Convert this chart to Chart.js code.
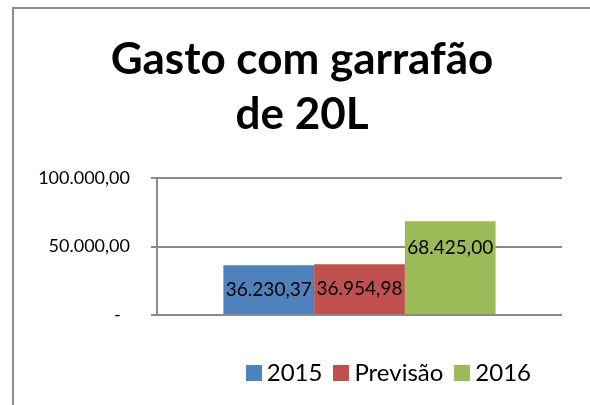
<!DOCTYPE html>
<html>
<head>
<meta charset="utf-8">
<script src="https://cdn.jsdelivr.net/npm/chart.js@4.4.1/dist/chart.umd.min.js"></script>
<style>
  html, body { margin: 0; padding: 0; background: #fff; }
  #wrap { width: 590px; height: 405px; position: relative; }
</style>
</head>
<body>
<div id="wrap"><canvas id="myChart" width="590" height="405"></canvas></div>
<script>
// data
const categories = [''];
const seriesNames = ['2015', 'Previsão', '2016'];
const seriesValues = [[36230.37], [36954.98], [68425.00]];
const seriesColors = ['#4f81bd', '#c0504d', '#9bbb59'];
const labelPlacement = ['center', 'center', 'top'];
const yTicks = [0, 50000, 100000];

const LEGEND_RIGHT = 549;
const TITLE_LEFT = 42;

function fmtBR(v) {
  const parts = v.toFixed(2).split('.');
  const intPart = parts[0].replace(/\B(?=(\d{3})+(?!\d))/g, '.');
  return intPart + ',' + parts[1];
}

// square legend swatch, drawn as an image so the text can sit close to it
function swatch(color) {
  const c = document.createElement('canvas');
  c.width = 16;
  c.height = 16;
  const g = c.getContext('2d');
  g.fillStyle = color;
  g.fillRect(0, 0, 16, 16);
  return c;
}
const swatches = seriesColors.map(swatch);

// frame round the chart, like the spreadsheet chart box
const framePlugin = {
  id: 'frame',
  beforeDraw(chart) {
    const ctx = chart.ctx;
    ctx.save();
    ctx.strokeStyle = '#8a8a8a';
    ctx.lineWidth = 2;
    ctx.beginPath();
    ctx.moveTo(13, chart.height + 2);
    ctx.lineTo(13, 8);
    ctx.lineTo(chart.width + 2, 8);
    ctx.stroke();
    ctx.restore();
  }
};

// title and legend sit right of centre in the original
const boxShift = {
  id: 'boxShift',
  afterLayout(chart) {
    if (chart.legend) chart.legend.right = LEGEND_RIGHT;
    if (chart.titleBlock) chart.titleBlock.left = TITLE_LEFT;
  }
};

// value labels inside the bars
const valueLabels = {
  id: 'valueLabels',
  afterDatasetsDraw(chart) {
    const ctx = chart.ctx;
    ctx.save();
    ctx.font = '19px Lato';
    ctx.fillStyle = '#000';
    ctx.textAlign = 'center';
    ctx.textBaseline = 'middle';
    chart.data.datasets.forEach((ds, i) => {
      const meta = chart.getDatasetMeta(i);
      meta.data.forEach((bar, j) => {
        const y = labelPlacement[i] === 'center' ? (bar.y + bar.base) / 2 : bar.y + 27;
        ctx.fillText(fmtBR(ds.data[j]), bar.x, y);
      });
    });
    ctx.restore();
  }
};

const ctx = document.getElementById('myChart').getContext('2d');
new Chart(ctx, {
  type: 'bar',
  data: {
    labels: categories,
    datasets: seriesNames.map((name, i) => ({
      label: name,
      data: seriesValues[i],
      backgroundColor: seriesColors[i],
      borderWidth: 0
    }))
  },
  options: {
    responsive: false,
    animation: false,
    events: [],
    layout: { padding: { top: 0, right: 28, bottom: 10, left: 20 } },
    datasets: { bar: { categoryPercentage: 0.672, barPercentage: 1 } },
    scales: {
      x: {
        grid: { display: false, drawTicks: false },
        border: { display: false },
        ticks: { display: false },
        title: { display: true, text: '', font: { size: 1, lineHeight: 1 }, padding: { top: 27, bottom: 0 } }
      },
      y: {
        min: 0,
        max: 100000,
        afterBuildTicks(scale) { scale.ticks = yTicks.map(v => ({ value: v })); },
        afterFit(scale) { scale.width = 137; },
        grid: { color: '#8a8a8a', lineWidth: 2, tickLength: 6, drawTicks: true },
        border: { display: true, color: '#8a8a8a', width: 2 },
        ticks: {
          color: '#000',
          font: { family: 'Lato', size: 18 },
          padding: 21,
          callback: v => (v === 0 ? '-  ' : fmtBR(v))
        }
      }
    },
    plugins: {
      title: {
        display: true,
        text: ['Gasto com garrafão', 'de 20L'],
        color: '#000',
        font: { family: 'Lato', size: 44, weight: 'bold', lineHeight: 1.25 },
        padding: { top: 32, bottom: 36 }
      },
      legend: {
        position: 'bottom',
        align: 'end',
        labels: {
          color: '#000',
          font: { family: 'Lato', size: 24 },
          usePointStyle: true,
          pointStyleWidth: 2,
          boxHeight: 16,
          padding: 18,
          generateLabels(chart) {
            const items = Chart.defaults.plugins.legend.labels.generateLabels(chart);
            items.forEach(it => { it.pointStyle = swatches[it.datasetIndex]; });
            return items;
          }
        }
      },
      tooltip: { enabled: false }
    }
  },
  plugins: [framePlugin, boxShift, valueLabels]
});
</script>
</body>
</html>
